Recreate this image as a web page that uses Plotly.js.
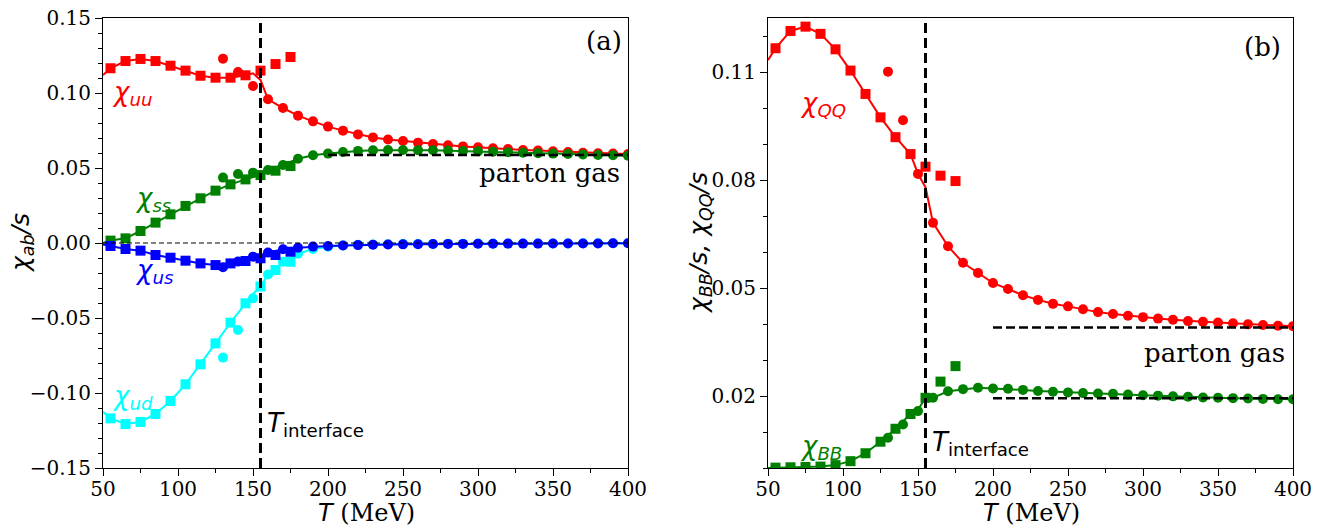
<!DOCTYPE html>
<html>
<head>
<meta charset="utf-8">
<script src="https://cdn.plot.ly/plotly-3.0.1.min.js"></script>
<style>html,body{margin:0;padding:0;background:#fff;}#chart{width:1318px;height:529px;}</style>
</head>
<body>
<div id="chart"></div>
<script>
// ---------- DATA ----------
const T_sq = [55,65,75,85,95,105,115,125,135,145,155,165,175];
const T_ci = [130,140,150,160,170,180,190,200,210,220,230,240,250,260,270,280,290,300,310,320,330,340,350,360,370,380,390,400];
const T_join = [150,155];
const T_start = 50;
const T_interface = 155;
const T_parton = [200,400];

// panel (a)
const uu_sq = [0.1165,0.1213,0.1227,0.1213,0.1182,0.1149,0.1115,0.1102,0.1102,0.1118,0.1149,0.1193,0.1240];
const uu_ci = [0.1229,0.1140,0.1047,0.0958,0.0900,0.0849,0.0811,0.0776,0.0749,0.0724,0.0704,0.0690,0.0680,0.0669,0.0660,0.0651,0.0644,0.0638,0.0631,0.0627,0.0620,0.0616,0.0611,0.0607,0.0602,0.0598,0.0596,0.0593];
const uu_join = [0.1131,0.1087];
const uu_start = 0.112;

const ss_sq = [0.0016,0.0031,0.0080,0.0136,0.0191,0.0247,0.0298,0.0349,0.0391,0.0424,0.0453,0.0482,0.0513];
const ss_ci = [0.0436,0.0460,0.0469,0.0487,0.0520,0.0562,0.0585,0.0596,0.0607,0.0614,0.0618,0.0620,0.0620,0.0619,0.0618,0.0616,0.0613,0.0611,0.0608,0.0605,0.0602,0.0599,0.0596,0.0593,0.0590,0.0587,0.0585,0.0582];
const ss_join = [0.0440,0.0455];
const ss_start = 0.0;

const us_sq = [-0.0020,-0.0040,-0.0051,-0.0080,-0.0098,-0.0118,-0.0136,-0.0147,-0.0136,-0.0120,-0.0102,-0.0080,-0.0058];
const us_ci = [-0.0162,-0.0124,-0.0091,-0.0064,-0.0042,-0.0031,-0.0024,-0.0020,-0.0017,-0.0014,-0.0012,-0.0010,-0.0009,-0.0008,-0.0007,-0.0006,-0.0006,-0.0005,-0.0005,-0.0004,-0.0004,-0.0004,-0.0003,-0.0003,-0.0003,-0.0003,-0.0002,-0.0002];
const us_join = [-0.0110,-0.0102];
const us_start = -0.001;

const ud_sq = [-0.1169,-0.1207,-0.1193,-0.1140,-0.1053,-0.0942,-0.0809,-0.0669,-0.0531,-0.0402,-0.0290,-0.0180,-0.0125];
const ud_ci = [-0.0764,-0.0580,-0.0369,-0.0210,-0.0125,-0.0072,-0.0040,-0.0025,-0.0017,-0.0012,-0.0010,-0.0008,-0.0007,-0.0006,-0.0006,-0.0005,-0.0005,-0.0004,-0.0004,-0.0004,-0.0003,-0.0003,-0.0003,-0.0003,-0.0002,-0.0002,-0.0002,-0.0002];
const ud_join = [-0.0340,-0.0290];
const ud_start = -0.1125;

const parton_a = 0.0586;
const zero_a = 0.0;

// panel (b)
const QQ_sq = [0.1166,0.1214,0.1226,0.1206,0.1163,0.1104,0.1039,0.0974,0.0919,0.0872,0.0837,0.0812,0.0797];
const QQ_ci = [0.1101,0.0966,0.0817,0.0681,0.0616,0.0570,0.0542,0.0514,0.0497,0.0480,0.0467,0.0456,0.0449,0.0441,0.0433,0.0428,0.0423,0.0419,0.0415,0.0412,0.0408,0.0406,0.0404,0.0402,0.0399,0.0397,0.0395,0.0394];
const QQ_join = [0.0817,0.0780];
const QQ_start = 0.1133;

const BB_sq = [0.0001,0.0002,0.0003,0.0004,0.0008,0.0019,0.0041,0.0073,0.0109,0.0150,0.0195,0.0240,0.0283];
const BB_ci = [0.0084,0.0121,0.0158,0.0195,0.0213,0.0219,0.0223,0.0221,0.0220,0.0217,0.0214,0.0212,0.0210,0.0208,0.0207,0.0206,0.0204,0.0202,0.0201,0.0199,0.0198,0.0196,0.0195,0.0194,0.0193,0.0192,0.0191,0.0191];
const BB_join = [0.0162,0.0195];
const BB_start = 0.0;

const parton_QQ = 0.039;
const parton_BB = 0.0194;

const xTicks = [50,100,150,200,250,300,350,400];
const yTicks_a = [-0.15,-0.10,-0.05,0.00,0.05,0.10,0.15];
const yTicks_b = [0.02,0.05,0.08,0.11];

// ---------- BUILD ----------
function lineXY(start, sqV, joinV, ciV) {
  const x = [T_start], y = [start];
  T_sq.forEach((t,i) => { if (t < T_join[0]) { x.push(t); y.push(sqV[i]); } });
  T_join.forEach((t,i) => { x.push(t); y.push(joinV[i]); });
  T_ci.forEach((t,i) => { if (t > T_join[1]) { x.push(t); y.push(ciV[i]); } });
  return {x, y};
}

const traces = [];
function addSeries(color, start, sqV, joinV, ciV, xa, ya) {
  const l = lineXY(start, sqV, joinV, ciV);
  traces.push({x:l.x, y:l.y, mode:'lines', line:{color:color, width:2}, xaxis:xa, yaxis:ya, hoverinfo:'skip'});
  traces.push({x:T_sq, y:sqV, mode:'markers', marker:{symbol:'square', size:10, color:color, line:{width:0}}, xaxis:xa, yaxis:ya, hoverinfo:'skip'});
  traces.push({x:T_ci, y:ciV, mode:'markers', marker:{symbol:'circle', size:10, color:color, line:{width:0}}, xaxis:xa, yaxis:ya, hoverinfo:'skip'});
}

addSeries('#ff0000', uu_start, uu_sq, uu_join, uu_ci, 'x', 'y');
addSeries('#008000', ss_start, ss_sq, ss_join, ss_ci, 'x', 'y');
addSeries('#00ffff', ud_start, ud_sq, ud_join, ud_ci, 'x', 'y');
addSeries('#0000ff', us_start, us_sq, us_join, us_ci, 'x', 'y');
addSeries('#ff0000', QQ_start, QQ_sq, QQ_join, QQ_ci, 'x2', 'y2');
addSeries('#008000', BB_start, BB_sq, BB_join, BB_ci, 'x2', 'y2');

// reference lines
traces.push({x:[xTicks[0], xTicks[xTicks.length-1]], y:[zero_a, zero_a], mode:'lines', line:{color:'#000', width:1, dash:'5px,3px'}, xaxis:'x', yaxis:'y', hoverinfo:'skip'});
traces.push({x:T_parton, y:[parton_a, parton_a], mode:'lines', line:{color:'#000', width:2.5, dash:'9px,4px'}, xaxis:'x', yaxis:'y', hoverinfo:'skip'});
traces.push({x:T_parton, y:[parton_QQ, parton_QQ], mode:'lines', line:{color:'#000', width:2.5, dash:'9px,4px'}, xaxis:'x2', yaxis:'y2', hoverinfo:'skip'});
traces.push({x:T_parton, y:[parton_BB, parton_BB], mode:'lines', line:{color:'#000', width:2.5, dash:'9px,4px'}, xaxis:'x2', yaxis:'y2', hoverinfo:'skip'});

const W = 1318, H = 529;
const px = v => v / W, py = v => 1 - v / H;

const tickFont = {family:'DejaVu Serif', size:20, color:'#000'};
function xaxisDef(domain) {
  return {domain, range:[50,400], tickmode:'array', tickvals:xTicks, ticktext:xTicks.map(String),
    ticks:'outside', ticklen:7, tickwidth:1, tickcolor:'#000', tickfont:tickFont, ticklabelstandoff:-4,
    showline:true, mirror:true, linecolor:'#000', linewidth:1, showgrid:false, zeroline:false,
    minor:{ticks:'outside', dtick:25, tick0:50, ticklen:4, tickwidth:1, tickcolor:'#000', showgrid:false}};
}
function yaxisDef(domain, range, tickvals, anchor, minorD) {
  return {domain, range, tickmode:'array', tickvals, ticktext:tickvals.map(v => v.toFixed(2).replace('-', '\u2212')),
    ticks:'outside', ticklen:7, tickwidth:1, tickcolor:'#000', tickfont:tickFont, anchor,
    showline:true, mirror:true, linecolor:'#000', linewidth:1, showgrid:false, zeroline:false,
    minor:{ticks:'outside', dtick:minorD, tick0:0, ticklen:4, tickwidth:1, tickcolor:'#000', showgrid:false}};
}

const yDom = [61/H, 511/H];
const mathFont = {family:'DejaVu Sans', size:26};
const serifFont = {family:'DejaVu Serif', size:26, color:'#000'};

function ann(xref, yref, x, y, text, color, font, xanchor) {
  return {xref, yref, x, y, text, showarrow:false, xanchor:xanchor||'left', yanchor:'middle',
    font:Object.assign({}, font, {color:color})};
}

const annotations = [
  ann('x','y',54.7,0.100,'<i>χ<sub>uu</sub></i>','#ff0000',mathFont),
  ann('x','y',70,0.0287,'<i>χ<sub>ss</sub></i>','#008000',mathFont),
  ann('x','y',70,-0.0187,'<i>χ<sub>us</sub></i>','#0000ff',mathFont),
  ann('x','y',54.7,-0.1027,'<i>χ<sub>ud</sub></i>','#00ffff',mathFont),
  ann('x','y',158,-0.1207,'<i>T</i><sub>interface</sub>','#000',mathFont),
  ann('x','y',396,0.0467,'parton gas','#000',serifFont,'right'),
  ann('x','y',397,0.1347,'(a)','#000',serifFont,'right'),
  ann('x2','y2',70,0.1011,'<i>χ<sub>QQ</sub></i>','#ff0000',mathFont),
  ann('x2','y2',70,0.0058,'<i>χ<sub>BB</sub></i>','#008000',mathFont),
  ann('x2','y2',158,0.0069,'<i>T</i><sub>interface</sub>','#000',mathFont),
  ann('x2','y2',396,0.0319,'parton gas','#000',serifFont,'right'),
  ann('x2','y2',393,0.117,'(b)','#000',serifFont,'right'),
  // axis titles
  {xref:'paper', yref:'paper', x:px(22), y:py(243), text:'<i>χ<sub>ab</sub>/s</i>', textangle:-90, showarrow:false, xanchor:'center', yanchor:'middle', font:{family:'DejaVu Sans', size:25, color:'#000'}},
  {xref:'paper', yref:'paper', x:px(700), y:py(243), text:'<i>χ<sub>BB</sub>/s, χ<sub>QQ</sub>/s</i>', textangle:-90, showarrow:false, xanchor:'center', yanchor:'middle', font:{family:'DejaVu Sans', size:25, color:'#000'}},
  {xref:'paper', yref:'paper', x:px(366), y:py(513), text:'<span style="font-family:DejaVu Sans;font-style:italic">T</span> (MeV)', showarrow:false, xanchor:'center', yanchor:'middle', font:{family:'DejaVu Serif', size:24, color:'#000'}},
  {xref:'paper', yref:'paper', x:px(1031), y:py(513), text:'<span style="font-family:DejaVu Sans;font-style:italic">T</span> (MeV)', showarrow:false, xanchor:'center', yanchor:'middle', font:{family:'DejaVu Serif', size:24, color:'#000'}}
];

const shapes = [
  {type:'line', xref:'x', yref:'y domain', x0:T_interface, x1:T_interface, y0:0, y1:1, line:{color:'#000', width:3, dash:'10px,5px'}},
  {type:'line', xref:'x2', yref:'y2 domain', x0:T_interface, x1:T_interface, y0:0, y1:1, line:{color:'#000', width:3, dash:'10px,5px'}}
];

const layout = {
  width:W, height:H, margin:{l:0, r:0, t:0, b:0}, showlegend:false, hovermode:false,
  paper_bgcolor:'#fff', plot_bgcolor:'#fff',
  xaxis: Object.assign(xaxisDef([103/W, 628/W]), {anchor:'y'}),
  yaxis: yaxisDef(yDom, [-0.15,0.15], yTicks_a, 'x', 0.01),
  xaxis2: Object.assign(xaxisDef([768/W, 1293/W]), {anchor:'y2'}),
  yaxis2: yaxisDef(yDom, [0,0.125], yTicks_b, 'x2', 0.01),
  annotations, shapes
};

Plotly.newPlot('chart', traces, layout, {staticPlot:true, displayModeBar:false});
</script>
</body>
</html>
